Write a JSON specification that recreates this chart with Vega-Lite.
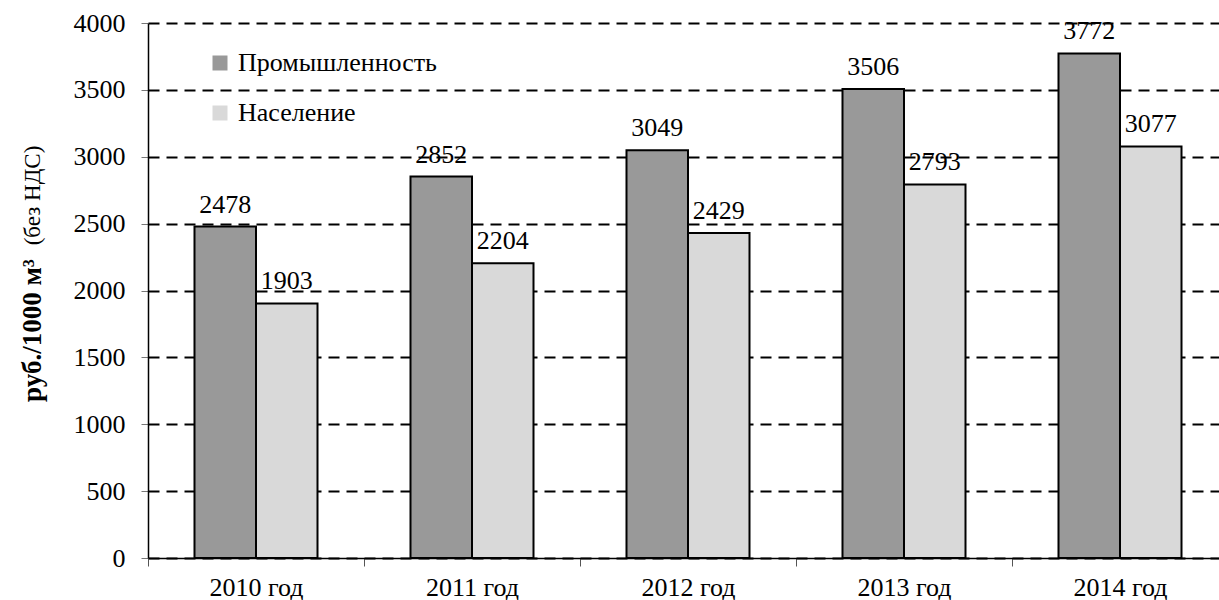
{
  "$schema": "https://vega.github.io/schema/vega-lite/v6.json",
  "width": 1062,
  "height": 535,
  "autosize": {"type": "none"},
  "padding": {"left": 148, "top": 23, "right": 9, "bottom": 42},
  "background": "white",
  "config": {
    "font": "Liberation Serif, Times New Roman, serif",
    "view": {"stroke": null},
    "text": {"font": "Liberation Serif, Times New Roman, serif"},
    "axis": {"labelFont": "Liberation Serif, Times New Roman, serif", "titleFont": "Liberation Serif, Times New Roman, serif", "labelColor": "black", "titleColor": "black"},
    "legend": {"labelFont": "Liberation Serif, Times New Roman, serif"}
  },
  "data": {
    "values": [
      {"year": "2010 год", "series": "Промышленность", "value": 2478},
      {"year": "2010 год", "series": "Население", "value": 1903},
      {"year": "2011 год", "series": "Промышленность", "value": 2852},
      {"year": "2011 год", "series": "Население", "value": 2204},
      {"year": "2012 год", "series": "Промышленность", "value": 3049},
      {"year": "2012 год", "series": "Население", "value": 2429},
      {"year": "2013 год", "series": "Промышленность", "value": 3506},
      {"year": "2013 год", "series": "Население", "value": 2793},
      {"year": "2014 год", "series": "Промышленность", "value": 3772},
      {"year": "2014 год", "series": "Население", "value": 3077}
    ]
  },
  "encoding": {
    "x": {
      "field": "year", "type": "nominal", "sort": null,
      "scale": {"paddingInner": 0, "paddingOuter": 0, "range": [0, 1080]},
      "axis": {
        "title": null, "labelAngle": 0, "labelFontSize": 26, "labelPadding": 8,
        "tickBand": "extent", "tickSize": 8, "tickColor": "#555555", "tickWidth": 1,
        "domainColor": "black", "domainWidth": 1.5, "grid": false
      }
    },
    "xOffset": {
      "field": "series", "type": "nominal", "sort": ["Промышленность", "Население"],
      "scale": {"paddingOuter": 0.756, "paddingInner": 0}
    }
  },
  "layer": [
    {
      "mark": {"type": "bar", "stroke": "black", "strokeWidth": 2},
      "encoding": {
        "y": {
          "field": "value", "type": "quantitative",
          "scale": {"domain": [0, 4000], "nice": false},
          "axis": {
            "values": [0, 500, 1000, 1500, 2000, 2500, 3000, 3500, 4000],
            "format": "d",
            "labelFontSize": 26, "labelPadding": 16,
            "tickSize": 7, "tickColor": "#777777", "tickWidth": 1,
            "domainColor": "black", "domainWidth": 1.5,
            "grid": true, "gridColor": "black", "gridWidth": 2, "gridDash": [11, 7],
            "title": "руб./1000 м³", "titleFontSize": 27, "titleFontWeight": "bold",
            "titleAngle": -90, "titleAlign": "center", "titleBaseline": "middle",
            "titleX": -116, "titleY": 307
          }
        },
        "color": {
          "field": "series", "type": "nominal",
          "scale": {"domain": ["Промышленность", "Население"], "range": ["#999999", "#d9d9d9"]},
          "legend": {
            "title": null, "orient": "none", "legendX": 59, "legendY": 27,
            "symbolType": "square", "symbolSize": 225, "symbolStrokeWidth": 0,
            "labelFontSize": 26, "labelColor": "black",
            "labelOffset": 5, "labelLimit": 500, "rowPadding": 24, "padding": 0
          }
        }
      }
    },
    {
      "mark": {"type": "text", "dy": -22, "fontSize": 26, "color": "black", "baseline": "middle"},
      "encoding": {
        "y": {
          "field": "value", "type": "quantitative",
          "axis": {
            "orient": "left", "labels": false, "ticks": false, "domain": false, "grid": false,
            "title": "(без НДС)", "titleFontSize": 23, "titleFontWeight": "normal",
            "titleAngle": -90, "titleAlign": "center", "titleBaseline": "middle",
            "titleX": -116, "titleY": 172
          }
        },
        "text": {"field": "value", "type": "quantitative", "format": "d"}
      }
    }
  ],
  "resolve": {"axis": {"y": "independent"}}
}
